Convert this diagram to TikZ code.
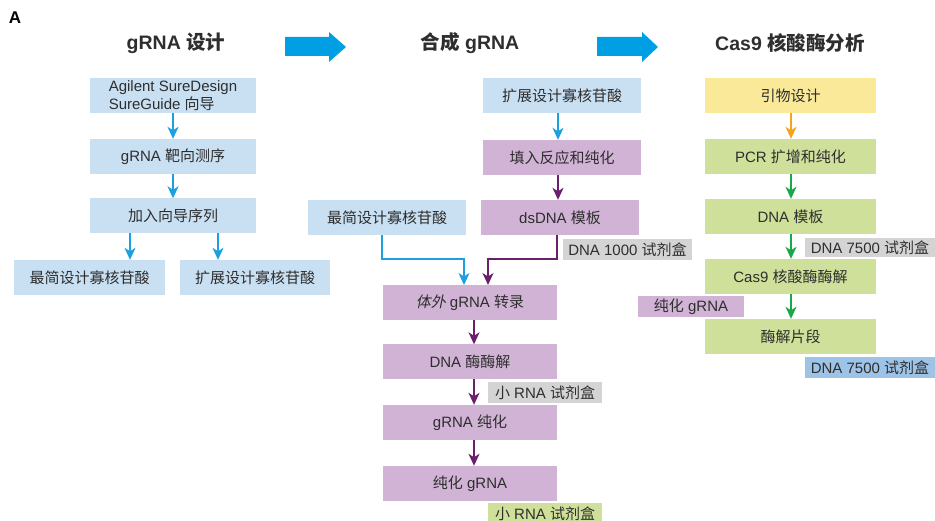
\documentclass[tikz,border=0pt]{standalone}
\usepackage{fontspec}
\setmainfont{Liberation Sans}
\newfontfamily\cjk{Noto Sans CJK SC}
\newfontfamily\cjksl[FakeSlant=0.2]{Noto Sans CJK SC}
\newcommand{\zh}[1]{{\cjk #1}}
\usetikzlibrary{arrows.meta}
\definecolor{txt}{HTML}{2E2E2E}
\definecolor{lblue}{HTML}{C9E0F3}
\definecolor{lpurp}{HTML}{D1B3D6}
\definecolor{lyel}{HTML}{FBE99A}
\definecolor{lgreen}{HTML}{CFE09A}
\definecolor{lgray}{HTML}{D4D4D4}
\definecolor{mblue}{HTML}{9DC3E6}
\definecolor{bigarrow}{HTML}{009FE3}
\definecolor{ablue}{HTML}{1BA1E2}
\definecolor{apurp}{HTML}{6B1F6B}
\definecolor{aorange}{HTML}{F7A21B}
\definecolor{agreen}{HTML}{1BA84A}
\tikzset{
  box/.style={inner sep=0pt, minimum height=35pt, text=txt, font=\fontsize{15}{17.5}\selectfont},
  lbl/.style={inner sep=0pt, minimum height=21pt, text=txt, font=\fontsize{15}{16}\selectfont},
  conn/.style={line width=1.3pt, -{Stealth[length=12pt,width=11pt,inset=3.5pt]}},
  ttl/.style={text=txt, font=\fontsize{19.5}{22}\selectfont\bfseries},
}
\begin{document}
\begin{tikzpicture}[x=1pt,y=-1pt]
\useasboundingbox (0,0) rectangle (935,521);
\node[text=black, font=\fontsize{17}{18}\selectfont\bfseries] (A) at (15,18) {A};
% titles
\node[ttl] (t1) at (176,43) {gRNA \zh{设计}};
\node[ttl] (t2) at (470,43) {\zh{合成} gRNA};
\node[ttl] (t3) at (790,43) {Cas9 \zh{核酸酶分析}};
% big arrows
\fill[bigarrow] (285,37) -- (329,37) -- (329,32) -- (346,47) -- (329,62) -- (329,56) -- (285,56) -- cycle;
\fill[bigarrow] (597,37) -- (642,37) -- (642,32) -- (658,47) -- (642,62) -- (642,56) -- (597,56) -- cycle;
% column 1
\node[box, fill=lblue, minimum width=166pt, align=left] (a1) at (173,95.5) {Agilent SureDesign\\SureGuide \zh{向导}};
\node[box, fill=lblue, minimum width=166pt] (a2) at (173,156.5) {gRNA \zh{靶向测序}};
\node[box, fill=lblue, minimum width=166pt] (a3) at (173,216) {\zh{加入向导序列}};
\node[box, fill=lblue, minimum width=151pt] (a4) at (89.5,277.5) {\zh{最简设计寡核苷酸}};
\node[box, fill=lblue, minimum width=150pt] (a5) at (255,277.5) {\zh{扩展设计寡核苷酸}};
\draw[conn, ablue] (a1) -- (a2);
\draw[conn, ablue] (a2) -- (a3);
\coordinate (a3l) at (130,233.5);
\draw[conn, ablue] (a3l) -- (a3l |- a4.north);
\coordinate (a3r) at (218,233.5);
\draw[conn, ablue] (a3r) -- (a3r |- a5.north);
% column 2
\node[box, fill=lblue, minimum width=158pt] (b1) at (562,95.5) {\zh{扩展设计寡核苷酸}};
\node[box, fill=lpurp, minimum width=158pt] (b2) at (562,157.5) {\zh{填入反应和纯化}};
\node[box, fill=lpurp, minimum width=158pt] (b3) at (560,217.5) {dsDNA \zh{模板}};
\node[box, fill=lblue, minimum width=158pt] (b4) at (387,217.5) {\zh{最简设计寡核苷酸}};
\node[box, fill=lpurp, minimum width=174pt] (b5) at (470,302.5) {{\cjksl 体外} gRNA \zh{转录}};
\node[box, fill=lpurp, minimum width=174pt] (b6) at (470,362) {DNA \zh{酶酶解}};
\node[box, fill=lpurp, minimum width=174pt] (b7) at (470,422.5) {gRNA \zh{纯化}};
\node[box, fill=lpurp, minimum width=174pt] (b8) at (470,483.5) {\zh{纯化} gRNA};
\node[lbl, fill=lgray, minimum width=129pt] (l1) at (627.5,249.5) {DNA 1000 \zh{试剂盒}};
\node[lbl, fill=lgray, minimum width=114pt] (l2) at (545,392.5) {\zh{小} RNA \zh{试剂盒}};
\node[lbl, fill=lgreen, minimum width=114pt] (l3) at (545,513.5) {\zh{小} RNA \zh{试剂盒}};
\coordinate (b1s) at (558,113);
\draw[conn, ablue] (b1s) -- (b1s |- b2.north);
\coordinate (b2s) at (558,175);
\draw[conn, apurp] (b2s) -- (b2s |- b3.north);
\coordinate (b3s) at (557,235);
\coordinate (b5r) at (488,285);
\draw[conn, apurp] (b3s) |- (488,259) -- (b5r);
\coordinate (b4s) at (382,235);
\coordinate (b5l) at (464,285);
\draw[conn, ablue] (b4s) |- (464,259) -- (b5l);
\coordinate (b5s) at (474,320);
\draw[conn, apurp] (b5s) -- (b5s |- b6.north);
\coordinate (b6s) at (474,379);
\draw[conn, apurp] (b6s) -- (b6s |- b7.north);
\coordinate (b7s) at (474,440);
\draw[conn, apurp] (b7s) -- (b7s |- b8.north);
% column 3
\node[box, fill=lyel, minimum width=171pt] (c1) at (790.5,95.5) {\zh{引物设计}};
\node[box, fill=lgreen, minimum width=171pt] (c2) at (790.5,156.5) {PCR \zh{扩增和纯化}};
\node[box, fill=lgreen, minimum width=171pt] (c3) at (790.5,216.5) {DNA \zh{模板}};
\node[box, fill=lgreen, minimum width=171pt] (c4) at (790.5,276.5) {Cas9 \zh{核酸酶酶解}};
\node[box, fill=lgreen, minimum width=171pt] (c5) at (790.5,336.5) {\zh{酶解片段}};
\node[lbl, fill=lgray, minimum width=130pt, minimum height=19pt] (m1) at (870,247.5) {DNA 7500 \zh{试剂盒}};
\node[lbl, fill=lpurp, minimum width=106pt] (m2) at (691,306.5) {\zh{纯化} gRNA};
\node[lbl, fill=mblue, minimum width=130pt] (m3) at (870,367.5) {DNA 7500 \zh{试剂盒}};
\coordinate (c1s) at (791,113);
\draw[conn, aorange] (c1s) -- (c1s |- c2.north);
\coordinate (c2s) at (791,174);
\draw[conn, agreen] (c2s) -- (c2s |- c3.north);
\coordinate (c3s) at (791,234);
\draw[conn, agreen] (c3s) -- (c3s |- c4.north);
\coordinate (c4s) at (791,294);
\draw[conn, agreen] (c4s) -- (c4s |- c5.north);
\end{tikzpicture}
\end{document}
